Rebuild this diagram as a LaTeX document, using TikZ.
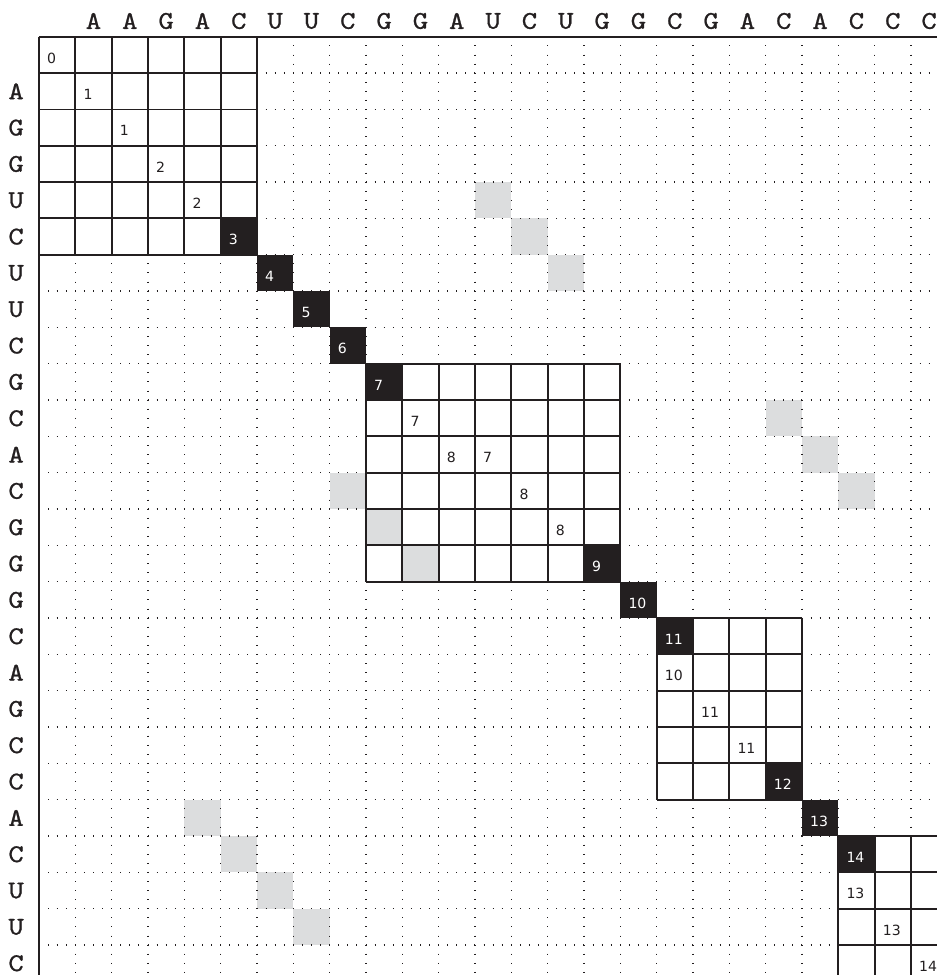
\documentclass[tikz,border=0pt]{standalone}
\usepackage{fontspec}
\newfontfamily\scorefont{DejaVu Sans}
\newfontfamily\seqfont{lmmono10-regular.otf}[FakeBold=0.9,FakeStretch=1.15]
\definecolor{DPInk}{HTML}{231F20}
\definecolor{DPGap}{HTML}{DCDDDE}

\begin{document}
\begin{tikzpicture}[
    dots/.style={
      draw=DPInk,
      line width=1.1pt,
      dash pattern=on 0.7pt off 6.413pt,
      dash phase=0.35pt
    },
    frame/.style={
      draw=DPInk,
      line width=1.5pt
    },
    border/.style={
      draw=DPInk,
      line width=2pt
    },
    base/.style={
      font=\seqfont\fontsize{20}{20}\selectfont,
      text=DPInk,
      inner sep=0pt,
      anchor=center
    },
    hit/.style={
      fill=DPInk,
      minimum size=1cm,
      inner sep=0pt
    },
    gap/.style={
      fill=DPGap,
      minimum size=1cm,
      inner sep=0pt
    },
    score/.style={
      font=\scorefont\fontsize{11}{13}\selectfont,
      text=#1,
      anchor=base west,
      inner sep=0pt
    },
    score/.default=DPInk
  ]

  \clip (-1.073,1.013) rectangle (24.717,-25.824);

  % Gap cells
  \foreach \r/\c in {4/12, 5/13, 6/14, 10/20, 11/21, 12/22,
                     12/8, 13/9, 14/10, 21/4, 22/5, 23/6, 24/7}
    \node[gap] (gap-\r-\c) at (\c+0.5,-\r-0.5) {};

  % Dotted grid
  \foreach \k in {1,...,26}
    \draw[dots] (0.25,-\k) -- (25,-\k);
  \foreach \k in {1,...,25}
    \draw[dots] (\k,0) -- (\k,-26);

  % Matches
  \foreach \r/\c in {5/5, 6/6, 7/7, 8/8, 9/9, 14/15, 15/16, 16/17,
                     20/20, 21/21, 22/22}
    \node[hit] (hit-\r-\c) at (\c+0.5,-\r-0.5) {};

  % Blocks
  \draw[frame] (0,0)    grid (6,-6);
  \draw[frame] (9,-9)   grid (16,-15);
  \draw[frame] (17,-16) grid (21,-21);
  \draw[frame] (22,-22) grid (26,-26);

  % Borders
  \draw[border] (0,0) -- (25,0);
  \draw[border] (0,0) -- (0,-26);

  % Sequences
  \foreach \ch [count=\c] in {A,A,G,A,C,U,U,C,G,G,A,U,C,U,G,G,C,G,A,C,A,C,C,C}
    \node[base] (top-\c) at (\c+0.5,0.435) {\ch};
  \foreach \ch [count=\r] in {A,G,G,U,C,U,U,C,G,C,A,C,G,G,G,C,A,G,C,C,A,C,U,U,C}
    \node[base] (left-\r) at (-0.63,-\r-0.5) {\ch};

  % Scores
  \foreach \r/\c/\v in {0/0/0, 1/1/1, 2/2/1, 3/3/2, 4/4/2,
                        10/10/7, 11/11/8, 11/12/7, 12/13/8, 13/14/8,
                        17/17/10, 18/18/11, 19/19/11,
                        23/22/13, 24/23/13, 25/24/14}
    \node[score] (val-\r-\c) at (\c+0.22,-\r-0.73) {\v};
  \foreach \r/\c/\v in {5/5/3, 6/6/4, 7/7/5, 8/8/6, 9/9/7, 14/15/9,
                        15/16/10, 16/17/11, 20/20/12, 21/21/13, 22/22/14}
    \node[score=white] (val-\r-\c) at (\c+0.22,-\r-0.73) {\v};

\end{tikzpicture}
\end{document}
